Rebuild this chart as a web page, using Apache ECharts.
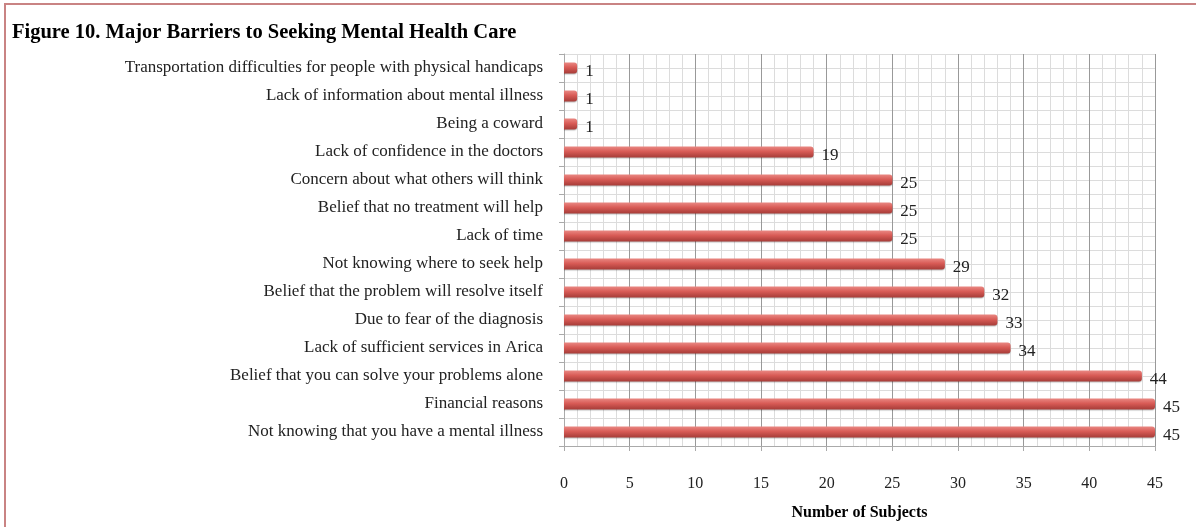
<!DOCTYPE html>
<html>
<head>
<meta charset="utf-8">
<script src="https://cdn.jsdelivr.net/npm/echarts@6/dist/echarts.min.js"></script>
<style>
  html, body { margin: 0; padding: 0; background: #fff; }
  #chart { width: 1196px; height: 527px; }
</style>
</head>
<body>
<div id="chart"></div>
<script>
  // top to bottom, as in the figure
  var barriers = [
    'Transportation difficulties for people with physical handicaps',
    'Lack of information about mental illness',
    'Being a coward',
    'Lack of confidence in the doctors',
    'Concern about what others will think',
    'Belief that no treatment will help',
    'Lack of time',
    'Not knowing where to seek help',
    'Belief that the problem will resolve itself',
    'Due to fear of the diagnosis',
    'Lack of sufficient services in Arica',
    'Belief that you can solve your problems alone',
    'Financial reasons',
    'Not knowing that you have a mental illness'
  ]
  var subjects = [1, 1, 1, 19, 25, 25, 25, 29, 32, 33, 34, 44, 45, 45]

  var serif = '"Liberation Serif", "DejaVu Serif", serif'
  var myChart = echarts.init(document.getElementById('chart'))

  var option = {
    backgroundColor: '#fff',
    animation: false,
    title: {
      text: 'Figure 10. Major Barriers to Seeking Mental Health Care',
      left: 7,
      top: 17,
      textStyle: { fontFamily: serif, fontWeight: 'bold', fontSize: 20.5, color: '#000' }
    },
    graphic: [{
      type: 'rect',
      shape: { x: 5, y: 4, width: 1300, height: 600 },
      style: { fill: 'none', stroke: '#c98383', lineWidth: 2 },
      silent: true
    }],
    grid: { left: 564, right: 41, top: 54, bottom: 81 },
    xAxis: {
      type: 'value',
      min: 0,
      max: 45,
      interval: 5,
      name: 'Number of Subjects',
      nameLocation: 'middle',
      nameGap: 59,
      nameTextStyle: { fontFamily: serif, fontWeight: 'bold', fontSize: 16, color: '#000' },
      axisLine: { show: true, lineStyle: { color: '#aaa' } },
      axisTick: { show: true, length: 5, lineStyle: { color: '#aaa' } },
      axisLabel: { margin: 30, fontFamily: serif, fontSize: 16, color: '#222' },
      splitLine: { show: true, lineStyle: { color: '#999', width: 1 } },
      minorTick: { show: false, splitNumber: 5 },
      minorSplitLine: { show: true, lineStyle: { color: '#dcdcdc', width: 1 } }
    },
    yAxis: [{
      type: 'category',
      data: barriers,
      inverse: true,
      axisLine: { show: true, lineStyle: { color: '#aaa' } },
      axisTick: { show: true, length: 5, lineStyle: { color: '#aaa' } },
      axisLabel: { margin: 21, fontFamily: serif, fontSize: 17, color: '#222' },
      splitLine: { show: true, lineStyle: { color: '#dcdcdc' } }
    }, {
      // half-category horizontal grid lines
      type: 'value',
      min: 0,
      max: 28,
      interval: 1,
      position: 'left',
      axisLine: { show: false },
      axisTick: { show: false },
      axisLabel: { show: false },
      splitLine: { show: true, lineStyle: { color: '#dcdcdc' } }
    }],
    series: [{
      type: 'bar',
      yAxisIndex: 0,
      data: subjects,
      barWidth: 11,
      itemStyle: {
        borderRadius: [0, 3, 3, 0],
        color: new echarts.graphic.LinearGradient(0, 0, 0, 1, [
          { offset: 0, color: '#ea8883' },
          { offset: 0.45, color: '#d85b56' },
          { offset: 1, color: '#a63c38' }
        ]),
        shadowColor: 'rgba(0,0,0,0.25)',
        shadowOffsetY: 1,
        shadowBlur: 1
      },
      label: {
        show: true,
        position: 'right',
        distance: 8,
        offset: [0, 4],
        fontFamily: serif,
        fontSize: 17,
        color: '#222'
      }
    }]
  }
  myChart.setOption(option)
  window.onresize = function () {
    myChart.resize()
  }
</script>
</body>
</html>
